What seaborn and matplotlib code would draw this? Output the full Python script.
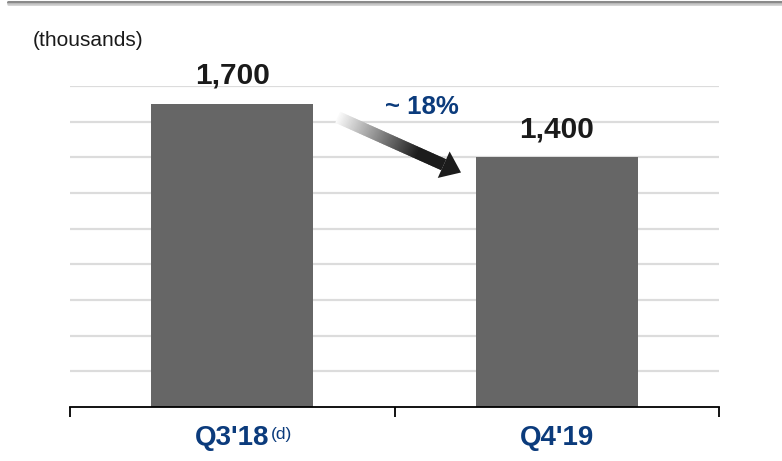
import numpy as np
import pandas as pd
import matplotlib
matplotlib.use("Agg")
import matplotlib.pyplot as plt
import seaborn as sns
from matplotlib.collections import PolyCollection
from matplotlib.lines import Line2D
from matplotlib.patches import Polygon

# ---- data ----
categories = ["Q3'18", "Q4'19"]
values = [1700, 1400]
value_labels = ["1,700", "1,400"]
change_label = "~ 18%"
unit_label = "(thousands)"
footnote = "(d)"

BLUE = "#0b3b7c"
BAR = "#666666"

sns.set_theme(style="white")
plt.rcParams["font.family"] = ["Liberation Sans", "DejaVu Sans"]

fig = plt.figure(figsize=(7.82, 4.61), dpi=100)
ax = fig.add_axes([70 / 782, 54 / 461, 649 / 782, 321 / 461])

df = pd.DataFrame({"period": categories, "value": values})
sns.barplot(data=df, x="period", y="value", color=BAR, width=0.5,
            saturation=1, linewidth=0, edgecolor="none", ax=ax)

ax.set_xlim(-0.5, 1.5)
ax.set_ylim(0, 1800)
ax.set_yticks(np.arange(200, 1801, 200))
ax.yaxis.grid(True, color="#dcdcdc", linewidth=1.6)
ax.xaxis.grid(False)
ax.set_axisbelow(True)
ax.tick_params(axis="y", length=0, labelleft=False)
ax.set_xlabel("")
ax.set_ylabel("")
for s in ["left", "right", "top"]:
    ax.spines[s].set_visible(False)
ax.spines["bottom"].set_color("black")
ax.spines["bottom"].set_linewidth(1.3)

ax.set_xticks([0, 1])
ax.set_xticklabels(categories, fontsize=20, fontweight="bold", color=BLUE)
ax.tick_params(axis="x", which="major", length=0, pad=13)
ax.set_xticks([-0.5, 0.5, 1.5], minor=True)
ax.tick_params(axis="x", which="minor", length=7, width=1.3,
               color="black", direction="out", bottom=True)

# value labels
for i, (v, lab) in enumerate(zip(values, value_labels)):
    ax.annotate(lab, (i, v), xytext=(0, 10), textcoords="offset points",
                ha="center", va="bottom", fontsize=21.5, fontweight="bold",
                color="#1a1a1a")

# change label
ax.text(0.585, 1681, change_label, ha="center", va="center", fontsize=18.5,
        fontweight="bold", color=BLUE)

# unit label
fig.text(33 / 782, 1 - 40 / 461, unit_label, ha="left", va="center",
         fontsize=15, color="#1a1a1a")

# top rule with shadow
fig.add_artist(Line2D([8 / 782, 1], [1 - 2 / 461] * 2, color="#8a8a8a", lw=2.2))
fig.add_artist(Line2D([8 / 782, 1], [1 - 4.5 / 461] * 2, color="#c8c8c8", lw=1.8))

fig.canvas.draw()

# footnote superscript after first tick label
tl = ax.get_xticklabels()[0]
bb = tl.get_window_extent(renderer=fig.canvas.get_renderer())
fig.text(bb.x1 + 1, bb.y1 - 2, footnote, transform=None, ha="left", va="top",
         fontsize=12.5, color=BLUE)

# gradient arrow (display coords)
p0 = np.array(ax.transData.transform((0.325, 1625)))
p1 = np.array(ax.transData.transform((0.705, 1315)))
d = p1 - p0
L = np.hypot(*d)
u = d / L
n = np.array([-u[1], u[0]])
head_len = 19
shaft_w = 12
head_w = 29
shaft_end = p1 - u * head_len
N = 80
polys, cols = [], []
ts = np.linspace(0, 1, N + 1)
c0 = np.array([0.98, 0.98, 0.98])
c1 = np.array([0.11, 0.11, 0.11])
for k in range(N):
    a = p0 + (shaft_end - p0) * ts[k]
    b = p0 + (shaft_end - p0) * min(ts[k + 1] + 0.01, 1)
    polys.append([a + n * shaft_w / 2, b + n * shaft_w / 2,
                  b - n * shaft_w / 2, a - n * shaft_w / 2])
    t = min(1.0, ts[k] / 0.75)
    cols.append(tuple(c0 + (c1 - c0) * t))
pc = PolyCollection(polys, facecolors=cols, edgecolors="none",
                    transform=None, zorder=5)
fig.add_artist(pc)
head = Polygon([shaft_end + n * head_w / 2, p1, shaft_end - n * head_w / 2],
               closed=True, facecolor="#1c1c1c", edgecolor="none",
               transform=None, zorder=6)
fig.add_artist(head)

fig.savefig("out.png", dpi=100)
